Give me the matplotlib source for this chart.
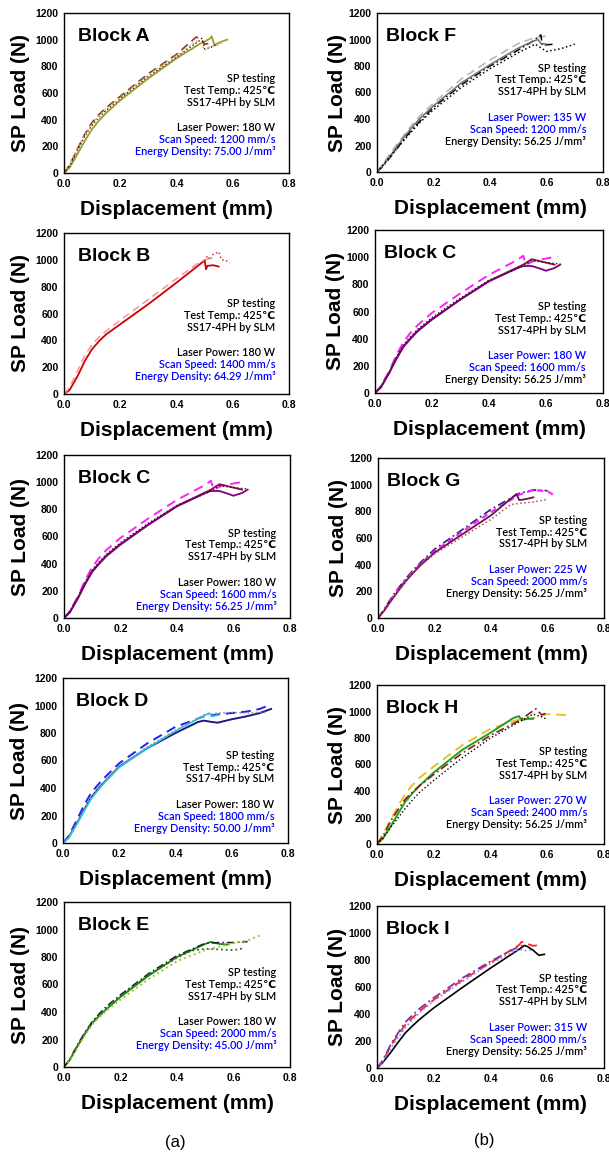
import matplotlib
matplotlib.use('Agg')
import matplotlib.pyplot as plt

plt.rcParams['font.family'] = ['Liberation Sans', 'DejaVu Sans']

# ---- data: displacement (mm) / SP load (N) ----
A_x = [[0, 0.02, 0.05, 0.075, 0.1, 0.125, 0.15, 0.2, 0.3, 0.4, 0.48, 0.5, 0.52, 0.525, 0.535, 0.56, 0.58],
       [0, 0.02, 0.05, 0.075, 0.1, 0.125, 0.15, 0.2, 0.3, 0.4, 0.47, 0.49, 0.5, 0.52],
       [0, 0.02, 0.05, 0.075, 0.1, 0.125, 0.15, 0.2, 0.3, 0.4, 0.48, 0.49, 0.5, 0.52, 0.54],
       [0, 0.02, 0.05, 0.075, 0.1, 0.125, 0.15, 0.2, 0.3, 0.4, 0.47, 0.49, 0.5, 0.52, 0.55, 0.57]]
A_y = [[0, 40, 150, 245, 330, 395, 450, 545, 710, 860, 965, 985, 1010, 1025, 960, 985, 1000],
       [0, 60, 190, 295, 380, 440, 490, 575, 745, 890, 1020, 1000, 965, 975],
       [0, 55, 180, 280, 360, 420, 470, 560, 725, 870, 990, 1010, 930, 940, 960],
       [0, 60, 200, 290, 370, 430, 480, 565, 735, 880, 990, 960, 920, 950, 960, 995]]

B_x = [[0, 0.02, 0.05, 0.075, 0.1, 0.125, 0.15, 0.2, 0.3, 0.4, 0.5, 0.505, 0.51, 0.53, 0.55],
       [0, 0.02, 0.05, 0.075, 0.1, 0.125, 0.15, 0.2, 0.3, 0.4, 0.48, 0.5, 0.52],
       [0.5, 0.51, 0.52, 0.53, 0.55, 0.56, 0.57, 0.59]]
B_y = [[0, 30, 140, 250, 335, 395, 445, 520, 670, 830, 995, 930, 955, 960, 950],
       [0, 50, 180, 290, 370, 425, 470, 550, 705, 860, 980, 1000, 1010],
       [990, 1030, 1000, 1040, 1060, 1000, 1000, 980]]

C_x = [[0, 0.02, 0.05, 0.075, 0.1, 0.125, 0.15, 0.2, 0.3, 0.4, 0.5, 0.52, 0.53, 0.56, 0.6, 0.64],
       [0, 0.02, 0.05, 0.075, 0.1, 0.125, 0.15, 0.2, 0.3, 0.4, 0.5, 0.52, 0.55, 0.6, 0.63],
       [0, 0.02, 0.05, 0.075, 0.1, 0.125, 0.15, 0.2, 0.3, 0.4, 0.5, 0.52, 0.55, 0.58, 0.6, 0.63, 0.65],
       [0, 0.02, 0.05, 0.075, 0.1, 0.125, 0.15, 0.2, 0.3, 0.4, 0.5, 0.52, 0.55, 0.6, 0.65]]
C_y = [[0, 50, 160, 280, 375, 445, 500, 590, 735, 870, 980, 1010, 945, 975, 990, 1005],
       [0, 40, 150, 255, 345, 405, 460, 545, 690, 825, 925, 945, 985, 960, 945],
       [0, 40, 148, 250, 340, 400, 455, 540, 688, 822, 920, 935, 935, 915, 900, 920, 945],
       [0, 45, 155, 265, 355, 415, 470, 555, 700, 830, 915, 935, 975, 960, 950]]

D_x = [[0, 0.02, 0.05, 0.075, 0.1, 0.125, 0.15, 0.2, 0.3, 0.4, 0.48, 0.5, 0.53, 0.55, 0.6, 0.65, 0.7, 0.74],
       [0, 0.02, 0.05, 0.075, 0.1, 0.125, 0.15, 0.2, 0.3, 0.4, 0.5, 0.55, 0.6, 0.65, 0.7, 0.73],
       [0, 0.02, 0.05, 0.075, 0.1, 0.125, 0.15, 0.2, 0.3, 0.4, 0.5, 0.52, 0.53, 0.55],
       [0, 0.02, 0.05, 0.075, 0.1, 0.125, 0.15, 0.2, 0.3, 0.4, 0.5, 0.55, 0.6, 0.65, 0.7, 0.72]]
D_y = [[0, 40, 145, 240, 330, 395, 450, 555, 690, 800, 880, 890, 880, 875, 900, 920, 945, 975],
       [0, 50, 170, 275, 365, 425, 480, 580, 725, 845, 920, 935, 945, 955, 975, 1000],
       [0, 35, 140, 232, 320, 385, 445, 550, 690, 815, 925, 945, 920, 930],
       [0, 40, 150, 245, 335, 398, 455, 560, 700, 820, 930, 945, 950, 945, 950, 950]]

E_x = [[0, 0.02, 0.05, 0.075, 0.1, 0.125, 0.15, 0.2, 0.3, 0.4, 0.5, 0.52, 0.55, 0.58],
       [0, 0.02, 0.05, 0.075, 0.1, 0.125, 0.15, 0.2, 0.3, 0.4, 0.5, 0.55, 0.6, 0.65],
       [0, 0.02, 0.05, 0.075, 0.1, 0.125, 0.15, 0.2, 0.3, 0.4, 0.45, 0.5, 0.55, 0.6, 0.64],
       [0, 0.02, 0.05, 0.075, 0.1, 0.125, 0.15, 0.2, 0.3, 0.4, 0.5, 0.6, 0.65, 0.7]]
E_y = [[0, 50, 160, 245, 320, 372, 420, 510, 665, 800, 895, 910, 895, 890],
       [0, 55, 170, 255, 330, 388, 440, 525, 680, 810, 900, 905, 905, 912],
       [0, 50, 160, 248, 325, 380, 430, 515, 670, 795, 845, 860, 855, 850, 865],
       [0, 45, 150, 235, 310, 362, 410, 490, 640, 770, 850, 900, 920, 962]]

F_x = [[0, 0.02, 0.05, 0.075, 0.1, 0.125, 0.15, 0.2, 0.3, 0.4, 0.5, 0.56, 0.6],
       [0, 0.02, 0.05, 0.075, 0.1, 0.125, 0.15, 0.2, 0.3, 0.4, 0.5, 0.55, 0.58, 0.585, 0.6, 0.63],
       [0, 0.02, 0.05, 0.075, 0.1, 0.125, 0.15, 0.2, 0.3, 0.4, 0.5, 0.55, 0.57, 0.58, 0.6],
       [0, 0.02, 0.05, 0.075, 0.1, 0.125, 0.15, 0.2, 0.3, 0.4, 0.5, 0.56, 0.6, 0.65, 0.7]]
F_y = [[0, 60, 150, 222, 290, 358, 420, 520, 705, 845, 970, 1015, 1025],
       [0, 40, 120, 190, 260, 322, 380, 488, 660, 800, 920, 985, 1035, 955, 960, 965],
       [0, 45, 130, 205, 275, 340, 400, 500, 675, 810, 935, 985, 1000, 970, 965],
       [0, 50, 125, 188, 250, 312, 370, 470, 640, 780, 900, 965, 910, 930, 965]]

G_x = [[0, 0.02, 0.05, 0.075, 0.1, 0.125, 0.15, 0.2, 0.3, 0.4, 0.5, 0.55, 0.6],
       [0, 0.02, 0.05, 0.075, 0.1, 0.125, 0.15, 0.2, 0.3, 0.4, 0.5, 0.55, 0.6, 0.62],
       [0, 0.02, 0.05, 0.075, 0.1, 0.125, 0.15, 0.2, 0.3, 0.4, 0.49, 0.5, 0.52, 0.55],
       [0, 0.02, 0.05, 0.075, 0.1, 0.125, 0.15, 0.2, 0.3, 0.4, 0.47, 0.5, 0.55, 0.6]]
G_y = [[0, 60, 160, 232, 300, 360, 415, 515, 665, 815, 935, 960, 955],
       [0, 55, 150, 222, 290, 350, 405, 500, 650, 795, 925, 960, 950, 925],
       [0, 50, 140, 212, 280, 340, 395, 490, 630, 770, 930, 885, 890, 905],
       [0, 50, 140, 212, 280, 337, 390, 480, 610, 740, 850, 860, 870, 890]]

H_x = [[0, 0.02, 0.05, 0.075, 0.1, 0.125, 0.15, 0.2, 0.3, 0.4, 0.5, 0.55, 0.6, 0.65, 0.68],
       [0, 0.02, 0.05, 0.075, 0.1, 0.125, 0.15, 0.2, 0.3, 0.4, 0.48, 0.5, 0.51, 0.53, 0.55],
       [0, 0.02, 0.05, 0.075, 0.1, 0.125, 0.15, 0.2, 0.3, 0.4, 0.5, 0.56, 0.58, 0.6],
       [0, 0.02, 0.05, 0.075, 0.1, 0.125, 0.15, 0.2, 0.3, 0.4, 0.5, 0.55, 0.58, 0.6]]
H_y = [[0, 70, 190, 290, 380, 445, 500, 585, 745, 870, 940, 950, 980, 975, 970],
       [0, 40, 140, 232, 320, 383, 440, 540, 710, 840, 950, 965, 935, 945, 945],
       [0, 55, 180, 262, 340, 392, 440, 525, 685, 820, 930, 1020, 975, 990],
       [0, 40, 130, 200, 270, 332, 390, 480, 650, 800, 920, 980, 960, 940]]

I_x = [[0, 0.02, 0.05, 0.075, 0.1, 0.125, 0.15, 0.2, 0.3, 0.4, 0.5, 0.52, 0.53, 0.55, 0.57, 0.59],
       [0, 0.02, 0.05, 0.075, 0.1, 0.125, 0.15, 0.2, 0.3, 0.4, 0.5, 0.51, 0.55, 0.57],
       [0, 0.02, 0.05, 0.075, 0.1, 0.125, 0.15, 0.2, 0.3, 0.4, 0.5, 0.52],
       [0, 0.02, 0.05, 0.075, 0.1, 0.125, 0.15, 0.2, 0.3, 0.4, 0.5, 0.52, 0.55]]
I_y = [[0, 40, 120, 192, 260, 312, 360, 445, 595, 740, 878, 908, 900, 873, 835, 842],
       [0, 50, 170, 248, 320, 372, 420, 505, 650, 780, 910, 935, 905, 910],
       [0, 55, 180, 262, 340, 392, 440, 520, 665, 790, 900, 910],
       [0, 45, 150, 227, 300, 357, 410, 500, 640, 775, 880, 870, 875]]

# process parameters: (power W, speed mm/s, energy J/mm3)
params = {'A': (180, 1200, '75.00'), 'B': (180, 1400, '64.29'), 'C': (180, 1600, '56.25'),
          'D': (180, 1800, '50.00'), 'E': (180, 2000, '45.00'), 'F': (135, 1200, '56.25'),
          'G': (225, 2000, '56.25'), 'H': (270, 2400, '56.25'), 'I': (315, 2800, '56.25')}

# line styles (colour, linestyle, width)
dash = (0, (5, 3))
dashdot = (0, (5, 2, 1, 2))
styles = {
    'A': [('#9c9c2c', '-', 1.3), ('#8b3a2a', dash, 1.2), ('#222222', ':', 1.0), ('#e0b060', ':', 1.2)],
    'B': [('#cc0000', '-', 1.3), ('#ff9090', dash, 1.1), ('#e03030', ':', 1.1)],
    'C': [('#ff20ff', dash, 1.4), ('#8b1040', '-', 1.3), ('#800080', '-', 1.3), ('#222222', ':', 1.0)],
    'D': [('#1a1a80', '-', 1.4), ('#2020ff', dash, 1.4), ('#20d0e0', '-', 1.2), ('#909090', ':', 1.1)],
    'E': [('#109010', '-', 1.3), ('#202020', dashdot, 1.1), ('#2d6a2d', ':', 1.3), ('#b8b830', ':', 1.4)],
    'F': [('#b8b8b8', dash, 1.2), ('#000000', dashdot, 1.1), ('#707070', '-', 1.1), ('#000000', ':', 1.1)],
    'G': [('#202080', dashdot, 1.2), ('#ff20ff', (0, (3, 2)), 1.5), ('#701050', '-', 1.3), ('#b05050', ':', 1.1)],
    'H': [('#e8c020', dash, 1.4), ('#20a020', '-', 1.4), ('#8b1a1a', dashdot, 1.2), ('#000000', ':', 1.0)],
    'I': [('#000000', '-', 1.2), ('#ff2020', dash, 1.3), ('#8030a0', dashdot, 1.3), ('#8080ff', ':', 1.2)],
}
data = {'A': (A_x, A_y), 'B': (B_x, B_y), 'C': (C_x, C_y), 'D': (D_x, D_y), 'E': (E_x, E_y),
        'F': (F_x, F_y), 'G': (G_x, G_y), 'H': (H_x, H_y), 'I': (I_x, I_y)}

W, H = 609, 1155
fig = plt.figure(figsize=(W / 100, H / 100), dpi=100)

# (block, column, top px, bottom px, left px, right px, text top frac)
panels = [('A', 0, 13, 173, 64, 289, 0.59), ('B', 0, 233, 394, 64, 289, 0.56),
          ('C', 0, 455, 618, 64, 290, 0.52), ('D', 0, 678, 843, 63, 288, 0.53),
          ('E', 0, 902, 1067, 64, 290, 0.57),
          ('F', 1, 13, 172, 377, 603, 0.654), ('C', 1, 230, 393, 375, 603, 0.53),
          ('G', 1, 458, 618, 378, 604, 0.61), ('H', 1, 685, 844, 377, 604, 0.58),
          ('I', 1, 906, 1068, 377, 604, 0.555)]

offs_px = [0, 11.7, 23.4, 49, 61, 73]

for blk, col, top, bot, lft, rgt, ty in panels:
    ax = fig.add_axes([lft / W, 1 - bot / H, (rgt - lft) / W, (bot - top) / H])
    xs, ys = data[blk]
    for (x, y), (c, ls, lw) in zip(zip(xs, ys), styles[blk]):
        ax.plot(x, y, color=c, linestyle=ls, lw=lw)
    ax.set_xlim(0, 0.8)
    ax.set_ylim(0, 1200)
    ax.set_xticks([0, 0.2, 0.4, 0.6, 0.8])
    ax.set_xticklabels(['0.0', '0.2', '0.4', '0.6', '0.8'])
    ax.set_yticks(range(0, 1201, 200))
    ax.tick_params(length=0, pad=4, labelsize=7.5)
    for lab in ax.get_xticklabels() + ax.get_yticklabels():
        lab.set_fontweight('bold')
    for s in ax.spines.values():
        s.set_linewidth(1.0)
    ax.set_ylabel('SP Load (N)', fontsize=15, fontweight='bold',
                  labelpad=4 if col == 0 else 1)
    ax.set_xlabel('Displacement (mm)', fontsize=15, fontweight='bold', labelpad=8)
    tx = 0.06 if col == 0 else 0.04
    ax.text(tx, 0.855, 'Block ' + blk, transform=ax.transAxes, fontsize=14,
            fontweight='bold', va='center', ha='left')
    p, v, e = params[blk]
    lines = ['SP testing', 'Test Temp.: 425\u2103', 'SS17-4PH by SLM',
             'Laser Power: %d W' % p, 'Scan Speed: %d mm/s' % v,
             'Energy Density: %s J/mm\u00b3' % e]
    if col == 0:
        cols = ['black', 'black', 'black', 'black', 'blue', 'blue']
    else:
        cols = ['black', 'black', 'black', 'blue', 'blue', 'black']
    rx = 0.94 if col == 0 else 0.925
    hpx = bot - top
    for t, c, o in zip(lines, cols, offs_px):
        ax.text(rx, ty - o / hpx, t, transform=ax.transAxes, fontsize=7.8,
                family=['Lato', 'DejaVu Sans'], fontweight='semibold',
                color=c, ha='right', va='center')

fig.text(175 / W, 1 - 1143 / H, '(a)', fontsize=12, ha='center', va='center')
fig.text(484 / W, 1 - 1141 / H, '(b)', fontsize=12, ha='center', va='center')

fig.savefig('out.png', dpi=100)
